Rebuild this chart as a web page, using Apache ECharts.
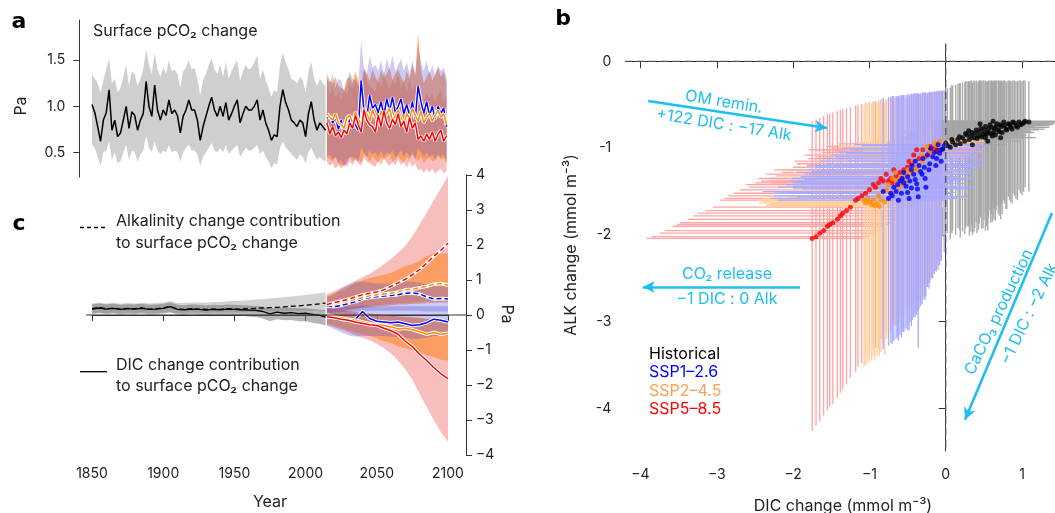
<!DOCTYPE html>
<html><head><meta charset="utf-8">
<script src="https://cdn.jsdelivr.net/npm/echarts@6/dist/echarts.min.js"></script>
<style>html,body{margin:0;padding:0;background:#fff}#c{width:1055px;height:513px}</style>
</head><body><div id="c"></div>
<script>
function seq(a,b,s){const r=[];for(let v=a;v<=b;v+=s)r.push(v);return r;}
// ---------- Panel a : surface pCO2 change (Pa) ----------
const yearsAH = seq(1850, 2014, 2);
const yearsAS = seq(2015, 2099, 2);
const histA = [1.02,0.93,0.78,0.62,0.85,0.93,1.18,0.74,0.85,0.67,0.71,0.85,1.00,0.76,0.94,0.90,0.74,0.85,0.92,1.27,1.00,0.89,1.23,0.96,0.85,0.96,0.90,1.07,0.92,0.96,0.90,0.71,0.89,0.96,1.07,0.96,0.96,0.85,0.63,0.78,0.89,1.00,1.10,0.96,0.89,1.00,0.89,1.04,0.85,0.92,1.00,1.07,0.82,0.92,1.00,0.96,0.96,1.00,1.07,0.85,0.96,0.82,0.74,0.63,0.69,0.67,1.00,1.18,1.04,0.96,0.85,0.82,0.78,0.85,0.82,0.67,0.92,1.05,0.85,0.74,0.82,0.78,0.74];
const histAHi = [1.35,1.30,1.25,1.15,1.28,1.40,1.52,1.25,1.30,1.15,1.20,1.32,1.45,1.22,1.38,1.35,1.22,1.30,1.40,1.62,1.45,1.35,1.58,1.40,1.32,1.42,1.35,1.50,1.38,1.40,1.35,1.20,1.38,1.42,1.50,1.40,1.42,1.30,1.12,1.28,1.35,1.45,1.52,1.40,1.35,1.45,1.32,1.48,1.30,1.38,1.45,1.50,1.28,1.38,1.45,1.40,1.42,1.48,1.55,1.30,1.40,1.28,1.20,1.10,1.18,1.15,1.45,1.58,1.48,1.40,1.30,1.28,1.25,1.32,1.28,1.15,1.38,1.48,1.30,1.22,1.30,1.25,1.22];
const histALo = [0.58,0.55,0.45,0.35,0.50,0.52,0.62,0.42,0.50,0.38,0.40,0.50,0.58,0.42,0.52,0.50,0.40,0.48,0.52,0.68,0.55,0.50,0.62,0.52,0.48,0.52,0.50,0.58,0.50,0.52,0.50,0.40,0.50,0.55,0.58,0.52,0.52,0.48,0.35,0.45,0.50,0.55,0.60,0.52,0.50,0.55,0.50,0.58,0.48,0.52,0.55,0.58,0.45,0.50,0.55,0.52,0.52,0.55,0.58,0.48,0.52,0.45,0.40,0.33,0.38,0.37,0.55,0.62,0.55,0.52,0.48,0.45,0.42,0.48,0.45,0.38,0.50,0.55,0.48,0.42,0.45,0.42,0.40];
const ssp1A = [0.87,0.90,0.82,0.88,0.75,0.85,0.70,0.72,0.86,0.88,0.80,0.74,1.28,0.95,0.88,1.12,0.98,1.02,0.93,1.05,0.90,1.08,0.95,1.10,0.93,1.00,1.08,0.92,1.02,0.90,1.05,0.86,1.22,1.05,0.92,1.05,0.90,1.00,0.86,1.00,0.92,0.98,0.78];
const ssp1AHi = [1.30,1.25,1.35,1.20,1.30,1.28,1.15,1.25,1.38,1.30,1.28,1.22,1.72,1.40,1.35,1.55,1.42,1.45,1.38,1.50,1.35,1.52,1.40,1.55,1.38,1.45,1.52,1.38,1.48,1.35,1.50,1.32,1.65,1.48,1.38,1.50,1.35,1.45,1.32,1.45,1.38,1.42,1.30];
const ssp1ALo = [0.45,0.48,0.42,0.45,0.38,0.42,0.35,0.38,0.45,0.45,0.42,0.40,0.55,0.50,0.45,0.52,0.48,0.50,0.45,0.52,0.45,0.50,0.48,0.52,0.45,0.48,0.52,0.45,0.50,0.45,0.50,0.42,0.55,0.50,0.45,0.50,0.45,0.48,0.42,0.48,0.45,0.48,0.40];
const ssp2A = [0.92,0.88,0.85,0.92,0.82,0.80,0.76,0.88,0.90,0.82,0.94,0.86,0.80,0.98,0.92,0.84,0.96,0.88,0.82,0.95,0.86,0.92,0.98,0.84,0.90,0.96,0.88,0.80,0.92,0.86,0.98,0.90,0.84,0.95,0.82,0.88,0.92,0.84,0.90,0.96,0.88,0.92,0.80];
const ssp2AHi = [1.35,1.28,1.25,1.32,1.22,1.20,1.18,1.30,1.32,1.25,1.38,1.28,1.22,1.42,1.35,1.28,1.40,1.32,1.25,1.40,1.30,1.35,1.42,1.28,1.35,1.40,1.32,1.25,1.38,1.30,1.45,1.35,1.80,1.40,1.25,1.32,1.38,1.28,1.35,1.42,1.32,1.38,1.25];
const ssp2ALo = [0.45,0.42,0.40,0.45,0.38,0.36,0.35,0.42,0.45,0.40,0.45,0.42,0.38,0.48,0.45,0.40,0.46,0.42,0.38,0.45,0.42,0.45,0.48,0.40,0.42,0.46,0.42,0.38,0.45,0.42,0.48,0.44,0.40,0.46,0.38,0.42,0.45,0.40,0.42,0.46,0.42,0.44,0.38];
const ssp5A = [0.82,0.70,0.78,0.68,0.72,0.66,0.74,0.70,0.82,0.76,0.90,0.80,0.72,0.96,0.85,0.80,0.78,0.72,0.90,0.78,0.95,0.82,0.76,0.86,0.80,0.92,0.78,0.84,0.72,0.88,0.76,0.82,0.64,0.68,0.62,0.70,0.64,0.72,0.62,0.70,0.74,0.62,0.68];
const ssp5AHi = [1.25,1.12,1.20,1.10,1.15,1.08,1.18,1.12,1.25,1.18,1.32,1.22,1.15,1.40,1.28,1.22,1.20,1.15,1.32,1.20,1.38,1.25,1.18,1.30,1.22,1.35,1.20,1.28,1.15,1.30,1.18,1.25,1.08,1.12,1.05,1.15,1.08,1.15,1.05,1.12,1.18,1.05,1.12];
const ssp5ALo = [0.40,0.35,0.38,0.32,0.36,0.32,0.36,0.34,0.40,0.36,0.42,0.38,0.35,0.44,0.40,0.38,0.36,0.34,0.42,0.36,0.44,0.38,0.35,0.40,0.36,0.42,0.36,0.40,0.33,0.40,0.34,0.38,0.30,0.32,0.28,0.32,0.28,0.32,0.27,0.30,0.32,0.27,0.30];
const ticksA = [0.5, 1.0, 1.5];

// ---------- Panel c : contributions (Pa) ----------
const yearsCH = seq(1850, 2010, 5).concat([2014]);
const yearsCS = seq(2015, 2100, 5);
const histDicC = [0.17,0.20,0.17,0.19,0.16,0.18,0.17,0.19,0.16,0.17,0.19,0.24,0.16,0.15,0.17,0.16,0.14,0.16,0.15,0.17,0.16,0.15,0.14,0.13,0.10,0.03,0.08,0.05,0.07,0.04,0.05,0.02,-0.01,-0.06];
const histAlkC = [0.18,0.21,0.18,0.20,0.17,0.19,0.18,0.20,0.17,0.18,0.20,0.24,0.17,0.16,0.18,0.17,0.16,0.17,0.16,0.18,0.17,0.17,0.18,0.19,0.20,0.21,0.22,0.23,0.25,0.26,0.28,0.30,0.32,0.34];
const histAlkCLo = [0.06,0.07,0.06,0.07,0.06,0.07,0.06,0.07,0.06,0.06,0.07,0.08,0.06,0.06,0.07,0.07,0.06,0.07,0.07,0.08,0.08,0.08,0.08,0.09,0.09,0.10,0.10,0.10,0.11,0.11,0.12,0.12,0.12,0.12];
const histAlkCHi = [0.33,0.36,0.33,0.35,0.32,0.34,0.33,0.35,0.33,0.34,0.36,0.40,0.34,0.34,0.36,0.36,0.35,0.37,0.37,0.39,0.40,0.41,0.42,0.44,0.46,0.47,0.49,0.51,0.53,0.55,0.57,0.60,0.62,0.64];
const histDicCLo = [0.02,0.05,0.02,0.04,0.01,0.03,0.02,0.04,0.01,0.02,0.04,0.08,0.01,0.00,0.02,0.01,-0.01,0.01,0.00,0.01,0.00,-0.02,-0.04,-0.06,-0.10,-0.18,-0.12,-0.15,-0.14,-0.18,-0.18,-0.22,-0.26,-0.30];
const histDicCHi = [0.30,0.33,0.30,0.32,0.29,0.31,0.30,0.32,0.29,0.30,0.32,0.36,0.29,0.28,0.30,0.29,0.27,0.29,0.28,0.30,0.29,0.28,0.27,0.26,0.24,0.18,0.22,0.20,0.21,0.19,0.19,0.17,0.15,0.14];

const ssp5AlkC = [0.30,0.35,0.40,0.45,0.52,0.58,0.62,0.66,0.72,0.82,0.92,1.02,1.15,1.30,1.48,1.68,1.85,2.05];
const ssp5AlkCLo = [0.08,0.10,0.12,0.15,0.18,0.22,0.25,0.28,0.30,0.32,0.33,0.35,0.36,0.38,0.40,0.42,0.45,0.48];
const ssp5AlkCHi = [0.60,0.68,0.78,0.88,0.98,1.08,1.18,1.30,1.45,1.60,1.78,1.98,2.25,2.58,2.92,3.28,3.62,3.98];
const ssp5DicC = [-0.05,-0.08,-0.12,-0.15,-0.20,-0.24,-0.28,-0.30,-0.38,-0.45,-0.55,-0.75,-0.90,-1.12,-1.30,-1.50,-1.68,-1.82];
const ssp5DicCLo = [-0.30,-0.35,-0.42,-0.50,-0.58,-0.65,-0.72,-0.82,-0.95,-1.10,-1.30,-1.55,-1.85,-2.25,-2.62,-3.00,-3.35,-3.62];
const ssp5DicCHi = [0.20,0.18,0.15,0.12,0.10,0.06,0.04,0.02,0.00,-0.02,-0.04,-0.06,-0.08,-0.10,-0.12,-0.14,-0.16,-0.18];
const ssp2AlkC = [0.28,0.32,0.36,0.40,0.45,0.50,0.55,0.58,0.60,0.62,0.66,0.72,0.74,0.78,0.82,0.88,0.90,0.85];
const ssp2AlkCLo = [0.08,0.10,0.12,0.14,0.18,0.20,0.22,0.25,0.26,0.28,0.30,0.30,0.32,0.32,0.34,0.35,0.36,0.36];
const ssp2AlkCHi = [0.55,0.62,0.70,0.80,0.90,1.00,1.05,1.10,1.15,1.20,1.30,1.40,1.45,1.55,1.68,1.78,1.76,1.74];
const ssp2DicC = [-0.02,-0.05,-0.08,-0.12,-0.15,-0.20,-0.25,-0.28,-0.30,-0.34,-0.40,-0.38,-0.42,-0.48,-0.55,-0.50,-0.55,-0.52];
const ssp2DicCLo = [-0.25,-0.30,-0.36,-0.45,-0.50,-0.55,-0.60,-0.68,-0.75,-0.80,-0.90,-0.95,-1.00,-1.08,-1.15,-1.20,-1.28,-1.30];
const ssp2DicCHi = [0.15,0.14,0.12,0.10,0.08,0.05,0.03,0.02,0.00,-0.02,-0.04,-0.05,-0.06,-0.08,-0.10,-0.10,-0.12,-0.12];
const ssp1AlkC = [0.25,0.24,0.27,0.33,0.38,0.46,0.50,0.52,0.54,0.56,0.58,0.62,0.63,0.60,0.52,0.46,0.47,0.46];
const ssp1AlkCLo = [0.05,0.06,0.08,0.10,0.10,0.12,0.12,0.12,0.12,0.12,0.12,0.12,0.12,0.12,0.10,0.10,0.10,0.10];
const ssp1AlkCHi = [0.50,0.60,0.75,0.85,0.95,0.95,0.92,0.90,0.90,0.90,0.92,0.95,0.95,0.92,0.88,0.85,0.82,0.80];
const ssp1DicC = [0.00,-0.05,-0.12,-0.15,-0.12,0.10,-0.10,-0.18,-0.20,-0.22,-0.20,-0.25,-0.30,-0.28,-0.22,-0.12,-0.15,-0.20];
const ssp1DicCLo = [-0.30,-0.40,-0.50,-0.58,-0.62,-0.60,-0.60,-0.60,-0.60,-0.62,-0.62,-0.65,-0.68,-0.68,-0.65,-0.60,-0.60,-0.60];
const ssp1DicCHi = [0.25,0.25,0.25,0.25,0.25,0.28,0.25,0.25,0.25,0.25,0.25,0.25,0.25,0.25,0.25,0.25,0.25,0.25];
const ticksCx = [1850, 1900, 1950, 2000, 2050, 2100];

// ---------- Panel b : [DIC, ALK, DIC low, DIC high, ALK low, ALK high] ----------
const histB = [
[-0.20,-1.00,-1.00,0.20,-2.00,-0.36],[-0.12,-1.02,-0.95,0.25,-2.05,-0.35],
[-0.04,-1.01,-0.90,0.30,-2.02,-0.34],[0.02,-0.97,-0.80,0.38,-1.98,-0.31],[0.06,-0.99,-0.85,0.42,-2.05,-0.30],
[0.09,-0.93,-0.70,0.45,-1.95,-0.28],[0.13,-0.96,-0.78,0.50,-2.00,-0.27],[0.16,-0.90,-0.62,0.52,-1.92,-0.26],
[0.19,-0.95,-0.75,0.55,-2.03,-0.25],[0.22,-0.88,-0.58,0.60,-1.96,-0.24],[0.25,-0.92,-0.66,0.62,-1.99,-0.24],
[0.28,-0.85,-0.52,0.66,-1.90,-0.23],[0.31,-0.90,-0.60,0.70,-2.01,-0.23],[0.34,-0.82,-0.48,0.72,-1.88,-0.22],
[0.37,-0.88,-0.55,0.76,-1.97,-0.22],[0.40,-0.79,-0.42,0.80,-1.85,-0.22],[0.43,-0.86,-0.50,0.82,-1.94,-0.23],
[0.46,-0.77,-0.38,0.86,-1.80,-0.22],[0.49,-0.84,-0.45,0.90,-1.92,-0.22],[0.52,-0.75,-0.35,0.92,-1.76,-0.22],
[0.55,-0.82,-0.40,0.96,-1.88,-0.23],[0.58,-0.73,-0.30,1.00,-1.72,-0.22],[0.61,-0.86,-0.42,1.02,-1.85,-0.23],
[0.64,-0.77,-0.33,1.06,-1.70,-0.22],[0.67,-0.72,-0.28,1.10,-1.66,-0.22],[0.70,-0.81,-0.35,1.12,-1.78,-0.23],
[0.73,-0.75,-0.30,1.16,-1.64,-0.22],[0.76,-0.70,-0.25,1.20,-1.60,-0.22],[0.79,-0.78,-0.32,1.22,-1.70,-0.23],
[0.82,-0.72,-0.22,1.26,-1.56,-0.22],[0.85,-0.76,-0.28,1.28,-1.62,-0.23],[0.88,-0.70,-0.20,1.32,-1.52,-0.22],
[0.92,-0.74,-0.24,1.36,-1.58,-0.23],[0.96,-0.70,-0.18,1.40,-1.48,-0.22],[1.00,-0.72,-0.15,1.42,-1.54,-0.23],
[1.04,-0.69,-0.12,1.43,-1.45,-0.22],[1.09,-0.70,-0.10,1.43,-1.50,-0.23],[0.55,-0.92,-0.45,0.98,-1.95,-0.24],
[0.35,-0.96,-0.62,0.80,-2.00,-0.25],[0.72,-0.88,-0.30,1.18,-1.82,-0.23],[0.45,-0.72,-0.40,0.88,-1.78,-0.22],
[0.62,-0.69,-0.30,1.05,-1.68,-0.22],
[0.30,-0.80,-0.55,0.72,-1.90,-0.23],[0.33,-0.86,-0.50,0.75,-1.96,-0.22],[0.38,-0.83,-0.48,0.78,-1.92,-0.23],
[0.41,-0.89,-0.46,0.84,-1.98,-0.24],[0.44,-0.81,-0.42,0.86,-1.87,-0.22],[0.47,-0.87,-0.44,0.88,-1.93,-0.23],
[0.50,-0.79,-0.38,0.92,-1.83,-0.22],[0.53,-0.84,-0.40,0.95,-1.90,-0.23],[0.56,-0.78,-0.36,0.98,-1.80,-0.22],
[0.59,-0.83,-0.38,1.00,-1.86,-0.23],[0.60,-0.76,-0.34,1.02,-1.76,-0.22],[0.63,-0.81,-0.36,1.05,-1.82,-0.23],
[0.66,-0.75,-0.32,1.08,-1.72,-0.22],[0.69,-0.79,-0.30,1.10,-1.75,-0.22],[0.71,-0.73,-0.28,1.14,-1.68,-0.22],
[0.74,-0.82,-0.30,1.16,-1.76,-0.23],[0.77,-0.74,-0.26,1.20,-1.64,-0.22],[0.80,-0.79,-0.28,1.22,-1.70,-0.23],
[0.84,-0.73,-0.24,1.26,-1.60,-0.22],[0.87,-0.78,-0.26,1.30,-1.64,-0.23],[0.90,-0.71,-0.20,1.33,-1.55,-0.22],
[0.94,-0.76,-0.22,1.36,-1.60,-0.23],[0.98,-0.73,-0.18,1.40,-1.52,-0.22],[1.02,-0.71,-0.15,1.42,-1.50,-0.22],
[0.52,-0.88,-0.45,0.94,-1.95,-0.24],[0.65,-0.85,-0.38,1.06,-1.84,-0.23],[0.26,-0.83,-0.55,0.68,-1.92,-0.23],
[0.18,-0.87,-0.62,0.58,-1.94,-0.25],[0.08,-0.90,-0.72,0.48,-1.98,-0.27],[0.00,-0.94,-0.82,0.40,-2.00,-0.30]];
const ssp1B = [
[-0.02,-0.97,-1.10,0.55,-2.20,-0.33],[-0.06,-1.02,-1.25,0.50,-2.30,-0.34],[-0.10,-0.96,-1.20,0.45,-2.35,-0.34],
[-0.15,-1.05,-1.40,0.40,-2.45,-0.35],[-0.19,-1.00,-1.35,0.42,-2.50,-0.35],[-0.24,-1.08,-1.50,0.35,-2.60,-0.36],
[-0.30,-1.12,-1.60,0.30,-2.75,-0.36],[-0.21,-1.18,-1.55,0.45,-2.55,-0.35],[-0.35,-1.20,-1.70,0.28,-2.85,-0.37],
[-0.40,-1.15,-1.65,0.22,-2.90,-0.37],[-0.45,-1.25,-1.80,0.20,-3.00,-0.38],[-0.31,-1.30,-1.78,0.35,-2.80,-0.36],
[-0.50,-1.33,-1.90,0.15,-3.05,-0.38],[-0.40,-1.36,-1.85,0.25,-2.95,-0.37],[-0.55,-1.40,-2.00,0.10,-3.10,-0.39],
[-0.45,-1.46,-2.00,0.18,-3.05,-0.38],[-0.60,-1.38,-2.05,0.05,-3.15,-0.39],[-0.65,-1.50,-2.15,0.02,-3.20,-0.40],
[-0.50,-1.51,-2.05,0.12,-3.10,-0.39],[-0.70,-1.55,-2.25,-0.02,-3.25,-0.40],[-0.75,-1.58,-2.30,-0.05,-3.28,-0.41],
[-0.62,-1.60,-2.20,0.00,-3.22,-0.40],[-0.36,-1.56,-1.95,0.30,-3.30,-0.38],[-0.26,-1.45,-1.80,0.38,-2.70,-0.36],
[-0.55,-1.28,-1.95,0.10,-3.12,-0.39],[-0.38,-1.41,-1.90,0.25,-2.92,-0.37],[-0.12,-1.12,-1.45,0.48,-2.40,-0.34],
[-0.28,-1.22,-1.70,0.36,-2.72,-0.36],[-0.68,-1.45,-2.20,0.00,-3.22,-0.40],[-0.42,-1.30,-1.85,0.22,-2.95,-0.37],
[-0.82,-1.50,-2.40,-0.10,-3.32,-0.42],[-0.58,-1.52,-2.10,0.08,-3.18,-0.39],
[-0.08,-1.06,-1.30,0.50,-2.35,-0.34],[-0.17,-1.10,-1.45,0.42,-2.50,-0.35],[-0.22,-1.25,-1.62,0.40,-2.62,-0.36],
[-0.33,-1.27,-1.75,0.32,-2.82,-0.37],[-0.37,-1.47,-1.88,0.28,-2.88,-0.37],[-0.47,-1.38,-1.95,0.18,-3.00,-0.38],
[-0.52,-1.44,-2.00,0.12,-3.08,-0.39],[-0.57,-1.35,-2.02,0.08,-3.12,-0.39],[-0.63,-1.42,-2.10,0.04,-3.18,-0.40],
[-0.72,-1.52,-2.25,-0.02,-3.25,-0.41],[-0.44,-1.20,-1.82,0.20,-2.98,-0.38],[-0.27,-1.35,-1.72,0.36,-2.75,-0.36],
[-0.13,-1.20,-1.45,0.46,-2.42,-0.35],[-0.48,-1.58,-2.05,0.15,-3.10,-0.39],[-0.06,-1.15,-1.28,0.52,-2.30,-0.34]];
const ssp2B = [
[-0.08,-0.92,-1.00,0.50,-2.30,-0.38],[-0.12,-0.97,-1.10,0.42,-2.40,-0.39],[-0.18,-1.00,-1.25,0.35,-2.50,-0.40],
[-0.22,-1.05,-1.35,0.30,-2.55,-0.40],[-0.28,-1.10,-1.45,0.25,-2.62,-0.41],[-0.30,-1.15,-1.50,0.22,-2.70,-0.41],
[-0.35,-1.20,-1.60,0.18,-2.75,-0.42],[-0.40,-1.22,-1.65,0.12,-2.80,-0.42],[-0.45,-1.26,-1.72,0.10,-2.85,-0.43],
[-0.50,-1.25,-1.78,0.05,-2.90,-0.43],[-0.55,-1.30,-1.85,0.02,-2.95,-0.44],[-0.60,-1.35,-1.92,0.00,-3.00,-0.44],
[-0.65,-1.38,-2.00,-0.02,-3.05,-0.45],[-0.70,-1.35,-2.05,-0.05,-3.10,-0.45],[-0.75,-1.42,-2.10,-0.08,-3.15,-0.46],
[-0.78,-1.48,-2.15,-0.10,-3.20,-0.46],[-0.82,-1.50,-2.20,-0.12,-3.25,-0.47],[-0.88,-1.55,-2.25,-0.05,-3.32,-0.47],
[-0.95,-1.60,-2.30,-0.05,-3.40,-0.48],[-1.00,-1.62,-2.40,-0.05,-3.45,-0.49],[-1.05,-1.63,-2.45,-0.02,-3.50,-0.50],
[-0.90,-1.64,-2.30,-0.02,-3.40,-0.48],[-0.85,-1.60,-2.25,-0.05,-3.35,-0.47],[-0.93,-1.66,-2.35,0.00,-3.45,-0.48],
[-0.80,-1.62,-2.20,-0.02,-3.38,-0.47],[-1.02,-1.58,-2.40,-0.08,-3.48,-0.49],[-0.66,-1.28,-2.00,0.00,-3.05,-0.45],
[-0.43,-1.15,-1.70,0.10,-2.82,-0.42],[-0.25,-0.98,-1.40,0.28,-2.60,-0.40],
[-0.15,-0.94,-1.15,0.40,-2.45,-0.39],[-0.20,-1.08,-1.30,0.32,-2.52,-0.40],[-0.32,-1.08,-1.55,0.20,-2.72,-0.41],
[-0.38,-1.25,-1.62,0.15,-2.78,-0.42],[-0.48,-1.30,-1.76,0.08,-2.88,-0.43],[-0.52,-1.38,-1.80,0.04,-2.92,-0.43],
[-0.58,-1.42,-1.90,0.00,-2.98,-0.44],[-0.62,-1.45,-1.95,-0.02,-3.02,-0.44],[-0.72,-1.52,-2.08,-0.05,-3.12,-0.45],
[-0.97,-1.65,-2.35,-0.03,-3.45,-0.49],[-0.87,-1.67,-2.28,-0.02,-3.40,-0.48],[-1.07,-1.60,-2.48,-0.05,-3.52,-0.50]];
const ssp5B = [
[-0.10,-0.95,-1.40,0.50,-2.40,-0.35],[-0.15,-1.00,-1.50,0.45,-2.45,-0.36],[-0.22,-1.05,-1.62,0.40,-2.55,-0.37],
[-0.30,-1.02,-1.70,0.35,-2.60,-0.38],[-0.35,-1.12,-1.80,0.30,-2.68,-0.38],[-0.42,-1.08,-1.85,0.25,-2.72,-0.39],
[-0.45,-1.18,-1.95,0.22,-2.78,-0.40],[-0.50,-1.22,-2.00,0.18,-2.82,-0.40],[-0.55,-1.25,-2.10,0.12,-2.88,-0.41],
[-0.60,-1.28,-2.15,0.08,-2.95,-0.42],[-0.65,-1.32,-2.22,0.05,-3.00,-0.42],[-0.72,-1.35,-2.30,0.00,-3.08,-0.43],
[-0.78,-1.30,-2.35,-0.05,-3.12,-0.44],[-0.82,-1.38,-2.42,-0.08,-3.18,-0.44],[-0.88,-1.40,-2.50,-0.12,-3.25,-0.45],
[-0.92,-1.45,-2.58,-0.15,-3.30,-0.46],[-1.00,-1.48,-2.70,-0.22,-3.38,-0.47],[-1.05,-1.52,-2.78,-0.28,-3.42,-0.48],
[-1.10,-1.55,-2.85,-0.32,-3.48,-0.49],[-1.18,-1.60,-2.95,-0.40,-3.58,-0.51],[-1.25,-1.68,-3.05,-0.48,-3.65,-0.53],
[-1.30,-1.72,-3.15,-0.52,-3.72,-0.54],[-1.38,-1.78,-3.30,-0.60,-3.82,-0.56],[-1.42,-1.82,-3.38,-0.65,-3.88,-0.57],
[-1.48,-1.86,-3.48,-0.72,-3.95,-0.59],[-1.55,-1.90,-3.58,-0.80,-4.02,-0.61],[-1.60,-1.95,-3.68,-0.85,-4.08,-0.63],
[-1.65,-1.98,-3.75,-0.92,-4.15,-0.65],[-1.70,-2.02,-3.85,-1.00,-4.20,-0.67],[-1.75,-2.04,-3.92,-1.08,-4.26,-0.69],
[-0.20,-0.98,-1.55,0.42,-2.50,-0.36],[-0.70,-1.40,-2.28,0.00,-3.05,-0.43],
[-0.12,-1.04,-1.45,0.48,-2.42,-0.35],[-0.27,-1.10,-1.68,0.38,-2.58,-0.37],[-0.38,-1.02,-1.80,0.28,-2.70,-0.38],
[-0.48,-1.15,-1.98,0.20,-2.80,-0.40],[-0.58,-1.35,-2.12,0.10,-2.92,-0.41],[-0.68,-1.25,-2.25,0.02,-3.02,-0.42],
[-0.75,-1.38,-2.32,-0.02,-3.10,-0.43],[-0.85,-1.35,-2.45,-0.10,-3.20,-0.44],[-0.95,-1.42,-2.62,-0.18,-3.32,-0.46],
[-1.15,-1.58,-2.90,-0.36,-3.52,-0.50],[-1.35,-1.75,-3.25,-0.56,-3.78,-0.55],[-1.52,-1.88,-3.52,-0.76,-3.98,-0.60]];
const ticksBx = [-4, -3, -2, -1, 0, 1];
const ticksBy = [0, -1, -2, -3, -4];
const rangeBx = [-4.199, 1.432];
const rangeBy = [-4.49, 0.2];
// process arrows [[DIC,ALK] start, [DIC,ALK] end]
const arrowOM = [[-3.90, -0.457], [-1.556, -0.768]];
const arrowCO2 = [[-1.91, -2.60], [-3.97, -2.60]];
const arrowCaCO3 = [[1.392, -1.747], [0.253, -4.13]];

// ---------- styling ----------
const FONT = 'Inter';
const TXT = '#222';
const CYAN = '#1ebff0';
const COL = {hist:'#000000', ssp1:'#0000ff', ssp2:'#ff8c00', ssp5:'#ff0000'};
const BAR = {hist:'#a6a6a6', ssp1:'#a9a9ff', ssp2:'#ffcf9c', ssp5:'#ffa3a3'};
const BAND = {ssp1:'rgba(70,70,220,0.28)', ssp2:'rgba(255,135,40,0.6)', ssp5:'rgba(235,70,70,0.35)'};
const MINUS = '\u2212';
const fm = v => v < 0 ? MINUS + Math.abs(v) : String(v);

function band(xi, xs, lo, hi, color) {
  return {type:'custom', xAxisIndex:xi, yAxisIndex:xi, silent:true, data:[[xs[0], lo[0]]],
    renderItem:(p, api) => {
      const pts = [];
      for (let i = 0; i < xs.length; i++) pts.push(api.coord([xs[i], hi[i]]));
      for (let i = xs.length - 1; i >= 0; i--) pts.push(api.coord([xs[i], lo[i]]));
      return {type:'polygon', shape:{points:pts}, style:{fill:color}};
    }};
}
function line(xi, xs, ys, color, width, dashed) {
  return {type:'line', xAxisIndex:xi, yAxisIndex:xi, silent:true, symbol:'none',
    data: xs.map((x, i) => [x, ys[i]]),
    lineStyle:{color:color, width:width, type: dashed ? [5, 3] : 'solid'}};
}
function haloLine(xi, xs, ys, color, dashed) {
  return [line(xi, xs, ys, '#ffffff', 3.4, false), line(xi, xs, ys, color, 1.5, dashed)];
}
function errBars(rows, color) {
  return {type:'custom', xAxisIndex:1, yAxisIndex:1, silent:true, data:rows, encode:{x:0, y:1},
    renderItem:(p, api) => {
      const d = api.value(0), a = api.value(1);
      const h1 = api.coord([api.value(2), a]), h2 = api.coord([api.value(3), a]);
      const v1 = api.coord([d, api.value(4)]), v2 = api.coord([d, api.value(5)]);
      return {type:'group', children:[
        {type:'line', shape:{x1:h1[0], y1:h1[1], x2:h2[0], y2:h2[1]}, style:{stroke:color, lineWidth:1.3}},
        {type:'line', shape:{x1:v1[0], y1:v1[1], x2:v2[0], y2:v2[1]}, style:{stroke:color, lineWidth:1.3}}]};
    }};
}
function pts(rows, color) {
  return {type:'scatter', xAxisIndex:1, yAxisIndex:1, silent:true, symbolSize:5,
    data: rows.map(r => [r[0], r[1]]), itemStyle:{color:color}};
}
function T(text, x, y, o) {
  o = o || {};
  return {type:'text', x:x, y:y, rotation:o.rot || 0, silent:true, z:100,
    style:{text:text, fill:o.fill || TXT, fontSize:o.size || 16, fontFamily:o.family || FONT,
      fontWeight:o.weight || 'normal', align:o.align || 'left', verticalAlign:'middle'}};
}
const lab = {color:TXT, fontSize:14, fontFamily:FONT};
const axLine = {show:true, lineStyle:{color:'#333', width:1}};
const arrowLine = (seg) => [
  {coord:seg[0], symbol:'none'},
  {coord:seg[1], symbol:'arrow', symbolSize:[9, 12]}];

const series = [];
// panel a
series.push(band(0, yearsAH, histALo, histAHi, '#cfcfcf'));
series.push(band(0, yearsAS, ssp5ALo, ssp5AHi, BAND.ssp5));
series.push(band(0, yearsAS, ssp2ALo, ssp2AHi, BAND.ssp2));
series.push(band(0, yearsAS, ssp1ALo, ssp1AHi, BAND.ssp1));
series.push(line(0, yearsAH, histA, '#000', 1.5, false));
series.push(...haloLine(0, yearsAS, ssp1A, COL.ssp1, false));
series.push(...haloLine(0, yearsAS, ssp2A, COL.ssp2, false));
series.push(...haloLine(0, yearsAS, ssp5A, COL.ssp5, false));
// panel c
series.push(band(2, yearsCH, histAlkCLo, histAlkCHi, '#d2d2d2'));
series.push(band(2, yearsCH, histDicCLo, histDicCHi, 'rgba(110,110,110,0.5)'));
series.push(band(2, yearsCS, ssp5AlkCLo, ssp5AlkCHi, BAND.ssp5));
series.push(band(2, yearsCS, ssp5DicCLo, ssp5DicCHi, BAND.ssp5));
series.push(band(2, yearsCS, ssp2AlkCLo, ssp2AlkCHi, BAND.ssp2));
series.push(band(2, yearsCS, ssp2DicCLo, ssp2DicCHi, BAND.ssp2));
series.push(band(2, yearsCS, ssp1AlkCLo, ssp1AlkCHi, BAND.ssp1));
series.push(band(2, yearsCS, ssp1DicCLo, ssp1DicCHi, BAND.ssp1));
series.push(line(2, yearsCH, histAlkC, '#000', 1.3, true));
series.push(line(2, yearsCH, histDicC, '#000', 1.3, false));
series.push(...haloLine(2, yearsCS, ssp1AlkC, COL.ssp1, true));
series.push(...haloLine(2, yearsCS, ssp1DicC, COL.ssp1, false));
series.push(...haloLine(2, yearsCS, ssp2AlkC, COL.ssp2, true));
series.push(...haloLine(2, yearsCS, ssp2DicC, COL.ssp2, false));
series.push(...haloLine(2, yearsCS, ssp5AlkC, COL.ssp5, true));
series.push(...haloLine(2, yearsCS, ssp5DicC, COL.ssp5, false));
series.push({type:'line', xAxisIndex:3, yAxisIndex:3, silent:true, symbol:'none', z:5,
  data:[[0, 0], [1, 0]], lineStyle:{color:'#333', width:1.2}});
// panel b
series.push(errBars(histB, BAR.hist));
series.push(errBars(ssp5B, BAR.ssp5));
series.push(errBars(ssp2B, BAR.ssp2));
series.push(errBars(ssp1B, BAR.ssp1));
series.push(pts(histB, COL.hist));
series.push(pts(ssp5B, COL.ssp5));
series.push(pts(ssp2B, COL.ssp2));
series.push(pts(ssp1B, COL.ssp1));
// zero reference lines (dashed)
series.push({type:'line', xAxisIndex:1, yAxisIndex:1, silent:true, symbol:'none', z:6,
  data:[[rangeBx[0], 0], [rangeBx[1], 0]], lineStyle:{color:'#555', width:1.3, type:[7, 5]}});
series.push({type:'line', xAxisIndex:1, yAxisIndex:1, silent:true, symbol:'none', z:6,
  data:[[0, rangeBy[1]], [0, rangeBy[0]]], lineStyle:{color:'#555', width:1.3, type:[7, 5]}});
// process arrows
series.push({type:'scatter', xAxisIndex:1, yAxisIndex:1, silent:true, data:[], z:7,
  markLine:{silent:true, symbol:['none', 'none'], label:{show:false}, animation:false,
    lineStyle:{color:CYAN, width:2.6, type:'solid'},
    data:[arrowLine(arrowOM), arrowLine(arrowCO2), arrowLine(arrowCaCO3)]}});

const option = {
  animation:false,
  backgroundColor:'#ffffff',
  grid:[
    {left:92, top:20, width:356, height:157},
    {left:625.3, top:44, right:0, bottom:62},
    {left:92, top:175, width:356, height:280},
    {left:86, top:175, width:380, height:280}
  ],
  xAxis:[
    {gridIndex:0, type:'value', min:1850, max:2100, show:false},
    {gridIndex:1, type:'value', min:rangeBx[0], max:rangeBx[1], axisLine:axLine, splitLine:{show:false},
      axisTick:{show:true, length:7, customValues:ticksBx, lineStyle:{color:'#333'}},
      axisLabel:Object.assign({customValues:ticksBx, formatter:fm, margin:17}, lab)},
    {gridIndex:2, type:'value', min:1850, max:2100, offset:-4, axisLine:axLine, splitLine:{show:false},
      axisTick:{show:true, length:6, customValues:ticksCx, lineStyle:{color:'#333'}},
      axisLabel:Object.assign({customValues:ticksCx, formatter:v => String(v), margin:16}, lab)},
    {gridIndex:3, type:'value', min:0, max:1, show:false}
  ],
  yAxis:[
    {gridIndex:0, type:'value', min:0.2315, max:1.938, offset:12.7, axisLine:axLine, splitLine:{show:false},
      axisTick:{show:true, length:6, customValues:ticksA, lineStyle:{color:'#333'}},
      axisLabel:Object.assign({customValues:ticksA, formatter:v => v.toFixed(1), margin:14}, lab)},
    {gridIndex:1, type:'value', min:rangeBy[0], max:rangeBy[1], axisLine:axLine, splitLine:{show:false},
      axisTick:{show:true, length:7, customValues:ticksBy, lineStyle:{color:'#333'}},
      axisLabel:Object.assign({customValues:ticksBy, formatter:v => String(v), margin:14}, lab)},
    {gridIndex:2, type:'value', min:-4, max:4, interval:1, position:'right', offset:18, axisLine:axLine,
      splitLine:{show:false}, axisTick:{show:true, length:6, lineStyle:{color:'#333'}},
      axisLabel:Object.assign({formatter:fm, margin:10}, lab)},
    {gridIndex:3, type:'value', min:-4, max:4, show:false}
  ],
  series:series,
  graphic:[
    T('a', 19, 22, {size:22, weight:'bold', family:'DejaVu Sans', align:'center', fill:'#000'}),
    T('b', 563, 19, {size:22, weight:'bold', family:'DejaVu Sans', align:'center', fill:'#000'}),
    T('c', 19, 224, {size:22, weight:'bold', family:'DejaVu Sans', align:'center', fill:'#000'}),
    T('Surface pCO\u2082 change', 93, 31),
    T('Pa', 21, 106, {rot:Math.PI/2, align:'center'}),
    {type:'line', silent:true, shape:{x1:80, y1:227.5, x2:107, y2:227.5}, style:{stroke:'#000', lineWidth:1.3, lineDash:[4, 3]}},
    T('Alkalinity change contribution', 116, 221),
    T('to surface pCO\u2082 change', 116, 243),
    {type:'line', silent:true, shape:{x1:80, y1:371.7, x2:107, y2:371.7}, style:{stroke:'#000', lineWidth:1.3}},
    T('DIC change contribution', 116, 365),
    T('to surface pCO\u2082 change', 116, 386),
    T('Year', 270, 502, {align:'center'}),
    T('Pa', 507, 314, {rot:-Math.PI/2, align:'center'}),
    T('ALK change (mmol m\u207B\u00B3)', 571, 245, {rot:Math.PI/2, align:'center'}),
    T('DIC change (mmol m\u207B\u00B3)', 843, 506, {align:'center'}),
    T('Historical', 649, 354, {fill:'#000'}),
    T('SSP1\u20132.6', 649, 372.5, {fill:COL.ssp1}),
    T('SSP2\u20134.5', 649, 391, {fill:'#ffa050'}),
    T('SSP5\u20138.5', 649, 409, {fill:COL.ssp5}),
    T('OM remin.', 724, 102, {fill:CYAN, align:'center', rot:-0.16}),
    T('+122 DIC : \u221217 Alk', 724, 125, {fill:CYAN, align:'center', rot:-0.16}),
    T('CO\u2082 release', 727, 274, {fill:CYAN, align:'center'}),
    T('\u22121 DIC : 0 Alk', 727, 299, {fill:CYAN, align:'center'}),
    T('CaCO\u2083 production', 999, 312, {fill:CYAN, align:'center', rot:1.12}),
    T('\u22121 DIC : \u22122 Alk', 1029, 314, {fill:CYAN, align:'center', rot:1.12})
  ]
};
const chart = echarts.init(document.getElementById('c'), null, {renderer:'canvas'});
chart.setOption(option);
</script></body></html>
